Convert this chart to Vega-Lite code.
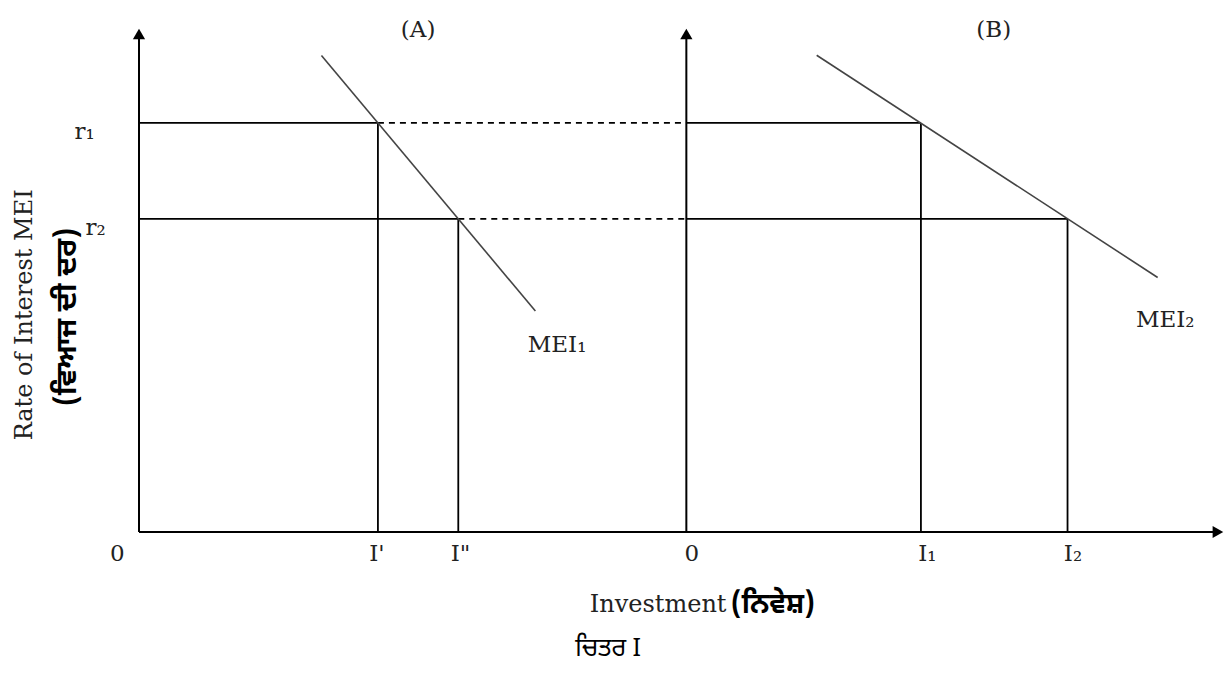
{
  "$schema": "https://vega.github.io/schema/vega-lite/v6.json",
  "width": 1086,
  "height": 505,
  "autosize": {"type": "none"},
  "padding": {"left": 139, "top": 27, "right": 2, "bottom": 145},
  "background": "white",
  "config": {"view": {"stroke": null}},
  "datasets": {
    "axes": [
      {"x": 0, "y": 0, "x2": 0, "y2": 98.0},
      {"x": 50.4, "y": 0, "x2": 50.4, "y2": 98.0},
      {"x": 0, "y": 0, "x2": 99, "y2": 0}
    ],
    "arrows": [
      {"x": 0, "y": 98.6, "dir": "up"},
      {"x": 50.4, "y": 98.6, "dir": "up"},
      {"x": 99.35, "y": 0, "dir": "right"}
    ],
    "segments": [
      {"x": 0, "x2": 22, "y": 81, "y2": 81, "kind": "solid"},
      {"x": 50.4, "x2": 72, "y": 81, "y2": 81, "kind": "solid"},
      {"x": 0, "x2": 29.4, "y": 62, "y2": 62, "kind": "solid"},
      {"x": 50.4, "x2": 85.5, "y": 62, "y2": 62, "kind": "solid"},
      {"x": 22, "x2": 22, "y": 0, "y2": 81, "kind": "solid"},
      {"x": 29.4, "x2": 29.4, "y": 0, "y2": 62, "kind": "solid"},
      {"x": 72, "x2": 72, "y": 0, "y2": 81, "kind": "solid"},
      {"x": 85.5, "x2": 85.5, "y": 0, "y2": 62, "kind": "solid"},
      {"x": 22, "x2": 50.4, "y": 81, "y2": 81, "kind": "dashed"},
      {"x": 29.4, "x2": 50.4, "y": 62, "y2": 62, "kind": "dashed"}
    ],
    "curves": [
      {"s": "MEI1", "x": 16.8, "y": 94.35},
      {"s": "MEI1", "x": 36.5, "y": 43.77},
      {"s": "MEI2", "x": 62.4, "y": 94.4},
      {"s": "MEI2", "x": 93.8, "y": 50.4}
    ],
    "labels": [
      {"label": "0", "x": -2.0, "y": -4.4},
      {"label": "I'", "x": 21.9, "y": -4.4},
      {"label": "I\"", "x": 29.6, "y": -4.4},
      {"label": "0", "x": 50.9, "y": -4.4},
      {"label": "I₁", "x": 72.6, "y": -4.4},
      {"label": "I₂", "x": 86.0, "y": -4.4},
      {"label": "r₁", "x": -5.0, "y": 79.2},
      {"label": "r₂", "x": -4.0, "y": 60.2},
      {"label": "(A)", "x": 25.7, "y": 99.4},
      {"label": "(B)", "x": 78.7, "y": 99.4},
      {"label": "MEI₁", "x": 38.5, "y": 37.0},
      {"label": "MEI₂", "x": 94.5, "y": 42.0}
    ]
  },
  "layer": [
    {
      "data": {"name": "axes"},
      "mark": {"type": "rule", "color": "black", "strokeWidth": 2},
      "encoding": {
        "x": {"field": "x", "type": "quantitative", "scale": {"domain": [0, 100], "nice": false, "zero": false}, "axis": null},
        "x2": {"field": "x2"},
        "y": {"field": "y", "type": "quantitative", "scale": {"domain": [0, 100], "nice": false, "zero": false}, "axis": null},
        "y2": {"field": "y2"}
      }
    },
    {
      "data": {"name": "arrows"},
      "mark": {"type": "point", "filled": true, "color": "black", "opacity": 1, "size": 150},
      "encoding": {
        "x": {"field": "x", "type": "quantitative", "scale": {"domain": [0, 100], "nice": false, "zero": false}, "axis": null},
        "y": {"field": "y", "type": "quantitative", "scale": {"domain": [0, 100], "nice": false, "zero": false}, "axis": null},
        "shape": {"field": "dir", "type": "nominal", "scale": {"domain": ["up", "right"], "range": ["triangle-up", "triangle-right"]}, "legend": null}
      }
    },
    {
      "data": {"name": "segments"},
      "mark": {"type": "rule", "color": "black", "strokeWidth": 1.8},
      "encoding": {
        "x": {"field": "x", "type": "quantitative", "scale": {"domain": [0, 100], "nice": false, "zero": false}, "axis": null},
        "x2": {"field": "x2"},
        "y": {"field": "y", "type": "quantitative", "scale": {"domain": [0, 100], "nice": false, "zero": false}, "axis": null},
        "y2": {"field": "y2"},
        "strokeDash": {"field": "kind", "type": "nominal", "scale": {"domain": ["solid", "dashed"], "range": [[1, 0], [6, 5]]}, "legend": null}
      }
    },
    {
      "data": {"name": "curves"},
      "mark": {"type": "line", "color": "#444444", "strokeWidth": 1.6},
      "encoding": {
        "x": {"field": "x", "type": "quantitative", "scale": {"domain": [0, 100], "nice": false, "zero": false}, "axis": null},
        "y": {"field": "y", "type": "quantitative", "scale": {"domain": [0, 100], "nice": false, "zero": false}, "axis": null},
        "detail": {"field": "s", "type": "nominal"}
      }
    },
    {
      "data": {"name": "labels"},
      "mark": {"type": "text", "font": "DejaVu Serif", "fontSize": 23, "color": "#222222", "align": "center", "baseline": "middle"},
      "encoding": {
        "x": {"field": "x", "type": "quantitative", "scale": {"domain": [0, 100], "nice": false, "zero": false}, "axis": null},
        "y": {"field": "y", "type": "quantitative", "scale": {"domain": [0, 100], "nice": false, "zero": false}, "axis": null},
        "text": {"field": "label"}
      }
    },
    {
      "data": {"values": [{"label": "Rate of Interest MEI", "x": -10.5, "y": 43.0}]},
      "mark": {"type": "text", "font": "DejaVu Serif", "fontSize": 24, "color": "#222222", "align": "center", "baseline": "middle", "angle": 270},
      "encoding": {
        "x": {"field": "x", "type": "quantitative", "scale": {"domain": [0, 100], "nice": false, "zero": false}, "axis": null},
        "y": {"field": "y", "type": "quantitative", "scale": {"domain": [0, 100], "nice": false, "zero": false}, "axis": null},
        "text": {"field": "label"}
      }
    },
    {
      "data": {"values": [{"label": "(ਵਿਆਜ  ਦੀ  ਦਰ)", "x": -6.6, "y": 42.6}]},
      "mark": {"type": "text", "font": "Noto Sans Gurmukhi, Noto Sans, sans-serif", "fontSize": 29, "fontWeight": "bold", "color": "black", "align": "center", "baseline": "middle", "angle": 270},
      "encoding": {
        "x": {"field": "x", "type": "quantitative", "scale": {"domain": [0, 100], "nice": false, "zero": false}, "axis": null},
        "y": {"field": "y", "type": "quantitative", "scale": {"domain": [0, 100], "nice": false, "zero": false}, "axis": null},
        "text": {"field": "label"}
      }
    },
    {
      "data": {"values": [{"label": "Investment", "x": 54.1, "y": -14.4}]},
      "mark": {"type": "text", "font": "DejaVu Serif", "fontSize": 24, "color": "#222222", "align": "right", "baseline": "middle"},
      "encoding": {
        "x": {"field": "x", "type": "quantitative", "scale": {"domain": [0, 100], "nice": false, "zero": false}, "axis": null},
        "y": {"field": "y", "type": "quantitative", "scale": {"domain": [0, 100], "nice": false, "zero": false}, "axis": null},
        "text": {"field": "label"}
      }
    },
    {
      "data": {"values": [{"label": "(ਨਿਵੇਸ਼)", "x": 54.5, "y": -14.4}]},
      "mark": {"type": "text", "font": "Noto Sans Gurmukhi, Noto Sans, sans-serif", "fontSize": 28, "fontWeight": "bold", "color": "black", "align": "left", "baseline": "middle"},
      "encoding": {
        "x": {"field": "x", "type": "quantitative", "scale": {"domain": [0, 100], "nice": false, "zero": false}, "axis": null},
        "y": {"field": "y", "type": "quantitative", "scale": {"domain": [0, 100], "nice": false, "zero": false}, "axis": null},
        "text": {"field": "label"}
      }
    },
    {
      "data": {"values": [{"label": "ਚਿਤਰ I", "x": 43.2, "y": -22.9}]},
      "mark": {"type": "text", "font": "Noto Sans Gurmukhi, Noto Sans, sans-serif", "fontSize": 25, "color": "black", "align": "center", "baseline": "middle"},
      "encoding": {
        "x": {"field": "x", "type": "quantitative", "scale": {"domain": [0, 100], "nice": false, "zero": false}, "axis": null},
        "y": {"field": "y", "type": "quantitative", "scale": {"domain": [0, 100], "nice": false, "zero": false}, "axis": null},
        "text": {"field": "label"}
      }
    }
  ]
}
